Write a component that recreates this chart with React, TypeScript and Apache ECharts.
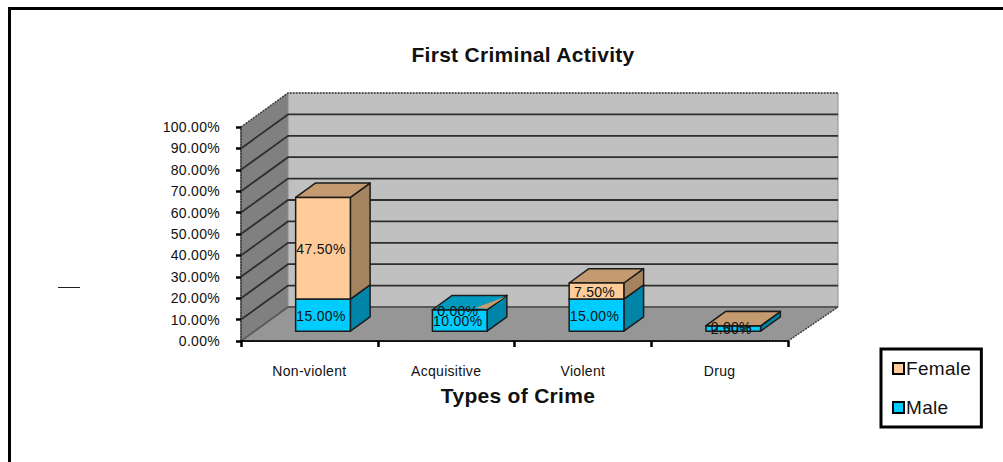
import React, { useEffect, useRef } from "react";
import * as echarts from "echarts";

const categories = ["Non-violent", "Acquisitive", "Violent", "Drug"];
const maleValues = [15, 10, 15, 2.5];
const femaleValues = [47.5, 0, 7.5, 0];
const femaleTopShare = [1, 0.3, 1, 1];
const yTicks = [0, 10, 20, 30, 40, 50, 60, 70, 80, 90, 100];

const FONT = "'Liberation Sans', Arial, sans-serif";
const DX = 47;
const DY = -34;
const RIGHT_EXTRA = 3;
const BAR_RATIO = 0.4;
const NEAR = 0.29;
const FAR = 0.71;

const MALE = { front: "#00CCFF", top: "#0099BF", side: "#0084A8" };
const FEMALE = { front: "#FFCC99", top: "#C49A70", side: "#A6835F" };
const EDGE = "#1c1c1c";

function renderWalls(params: any, api: any) {
  const cs = params.coordSys;
  const l = cs.x;
  const r = cs.x + cs.width;
  const b = cs.y + cs.height;
  const t = cs.y;
  const children: any[] = [];
  const poly = (points: number[][], fill: string, stroke?: string) => ({
    type: "polygon",
    shape: { points },
    style: { fill, stroke: stroke || fill, lineWidth: 1 },
  });
  children.push(poly([[l, b], [l + DX, b + DY], [r + DX + RIGHT_EXTRA, b + DY], [r, b]], "#969696"));
  children.push(poly([[l, b], [l + DX, b + DY], [l + DX, t + DY], [l, t]], "#808080"));
  children.push(poly([[l + DX, b + DY], [r + DX + RIGHT_EXTRA, b + DY], [r + DX + RIGHT_EXTRA, t + DY], [l + DX, t + DY]], "#C0C0C0", "#8c8c8c"));
  yTicks.forEach((v) => {
    const y = api.coord([0, v])[1];
    if (v === 100) return;
    const stroke = v === 0 ? "#5a5a5a" : "#2e2e2e";
    children.push({
      type: "polyline",
      shape: { points: [[l, y], [l + DX, y + DY], [r + DX + RIGHT_EXTRA, y + DY]] },
      style: { fill: "none", stroke, lineWidth: 1.8 },
    });
  });
  children.push({
    type: "polyline",
    shape: { points: [[l, t], [l + DX, t + DY], [r + DX + RIGHT_EXTRA, t + DY]] },
    style: { fill: "none", stroke: "#333333", lineWidth: 1.5, lineDash: [1.5, 1.5] },
  });
  children.push({
    type: "line",
    shape: { x1: r, y1: b, x2: r + DX + RIGHT_EXTRA, y2: b + DY },
    style: { stroke: "#333333", lineWidth: 1.5, lineDash: [1.5, 1.5] },
  });
  return { type: "group", children };
}

function makeBarRenderer(colors: typeof MALE) {
  return (_params: any, api: any) => {
    const cat = api.value(0);
    const value = api.value(1);
    const base = api.value(2);
    const share = api.value(3);
    const band = api.size([1, 0])[0];
    const cx = api.coord([cat, 0])[0];
    const yBase = api.coord([cat, base])[1];
    const yTop = api.coord([cat, base + value])[1];
    const halfW = (band * BAR_RATIO) / 2;
    const x0 = cx - halfW + DX * NEAR;
    const x1 = cx + halfW + DX * NEAR;
    const yb = yBase + DY * NEAR;
    const yt = yTop + DY * NEAR;
    const sx = DX * (FAR - NEAR);
    const sy = DY * (FAR - NEAR);
    const edge = { stroke: EDGE, lineWidth: 1.5, lineJoin: "round" };
    const children: any[] = [];
    children.push({
      type: "polygon",
      shape: { points: [[x1, yb], [x1 + sx, yb + sy], [x1 + sx, yt + sy], [x1, yt]] },
      style: { fill: colors.side, ...edge },
    });
    if (share >= 1) {
      children.push({
        type: "polygon",
        shape: { points: [[x0, yt], [x1, yt], [x1 + sx, yt + sy], [x0 + sx, yt + sy]] },
        style: { fill: colors.top, ...edge },
      });
    } else {
      children.push({
        type: "polygon",
        shape: {
          points: [
            [x1 - (x1 - x0) * share * 0.7, yt - 2],
            [x1 + sx - 1, yt + sy + 1],
            [x1, yt - 1],
          ],
        },
        style: { fill: colors.top, stroke: "none" },
      });
    }
    children.push({
      type: "rect",
      shape: { x: x0, y: yt, width: x1 - x0, height: yb - yt },
      style: { fill: colors.front, ...edge },
    });
    children.push({
      type: "text",
      style: {
        x: (x0 + x1) / 2 - 2,
        y: (yb + yt) / 2 + 1,
        text: value.toFixed(2) + "%",
        align: "center",
        verticalAlign: "middle",
        fontSize: 14,
        fontFamily: FONT,
        fill: "#111111",
      },
    });
    return { type: "group", children };
  };
}

export default function App() {
  const ref = useRef<HTMLDivElement>(null);
  useEffect(() => {
    const chart = echarts.init(ref.current!, undefined, { renderer: "svg" });
    chart.setOption({
      animation: false,
      backgroundColor: "#ffffff",
      textStyle: { fontFamily: FONT, color: "#111111" },
      title: {
        text: "First Criminal Activity",
        left: 518,
        top: 39,
        textAlign: "center",
        textStyle: { fontFamily: FONT, fontSize: 21, fontWeight: "bold", color: "#111111" },
      },
      grid: { left: 241, top: 127, width: 547, height: 214 },
      legend: {
        orient: "vertical",
        left: 881,
        top: 349,
        padding: [10, 12, 10, 11],
        itemWidth: 11,
        itemHeight: 11,
        itemGap: 20,
        borderColor: "#000000",
        borderWidth: 3,
        textStyle: { fontFamily: FONT, fontSize: 19, color: "#111111", padding: [0, 0, 0, -3] },
        data: [
          { name: "Female", icon: "rect", itemStyle: { color: FEMALE.front, borderColor: "#000", borderWidth: 2 } },
          { name: "Male", icon: "rect", itemStyle: { color: MALE.front, borderColor: "#000", borderWidth: 2 } },
        ],
      },
      xAxis: {
        type: "category",
        data: categories,
        z: 5,
        name: "Types of Crime",
        nameLocation: "middle",
        nameGap: 44,
        nameTextStyle: { fontFamily: FONT, fontSize: 21, fontWeight: "bold", color: "#111111", padding: [0, 0, 0, 7] },
        axisLine: { show: true, lineStyle: { color: "#111111", width: 2, type: [1.5, 1.5] } },
        axisTick: { show: true, length: 6, lineStyle: { color: "#000000", width: 2.5 } },
        axisLabel: { margin: 23, fontSize: 14, fontFamily: FONT, color: "#111111" },
      },
      yAxis: {
        type: "value",
        min: 0,
        max: 100,
        interval: 10,
        z: 5,
        splitLine: { show: false },
        axisLine: { show: true, lineStyle: { color: "#333333", width: 1.5, type: [1.5, 1.5] } },
        axisTick: { show: true, length: 5, lineStyle: { color: "#000000", width: 2.5 } },
        axisLabel: {
          margin: 21,
          fontSize: 14,
          fontFamily: FONT,
          color: "#111111",
          formatter: (v: number) => v.toFixed(2) + "%",
        },
      },
      graphic: [
        { type: "polyline", shape: { points: [[9.5, 462], [9.5, 8.5], [1003, 8.5]] }, style: { fill: "none", stroke: "#000", lineWidth: 3 } },
        { type: "line", shape: { x1: 58, y1: 287.5, x2: 80, y2: 287.5 }, style: { stroke: "#222", lineWidth: 1 } },
      ],
      series: [
        {
          type: "custom",
          name: "Walls",
          z: 1,
          silent: true,
          coordinateSystem: "cartesian2d",
          renderItem: renderWalls,
          data: [[0, 0]],
        },
        {
          type: "custom",
          name: "Male",
          z: 2,
          coordinateSystem: "cartesian2d",
          itemStyle: { color: MALE.front },
          renderItem: makeBarRenderer(MALE),
          encode: { x: 0, y: 1 },
          data: maleValues.map((v, i) => [i, v, 0, 1]),
        },
        {
          type: "custom",
          name: "Female",
          z: 3,
          coordinateSystem: "cartesian2d",
          itemStyle: { color: FEMALE.front },
          renderItem: makeBarRenderer(FEMALE),
          encode: { x: 0, y: 1 },
          data: femaleValues.map((v, i) => [i, v, maleValues[i], femaleTopShare[i]]),
        },
      ],
    });
    return () => chart.dispose();
  }, []);
  return (
    <div
      ref={ref}
      style={{ position: "absolute", left: 0, top: 0, width: 1003, height: 462, letterSpacing: "0.3px" }}
    />
  );
}
